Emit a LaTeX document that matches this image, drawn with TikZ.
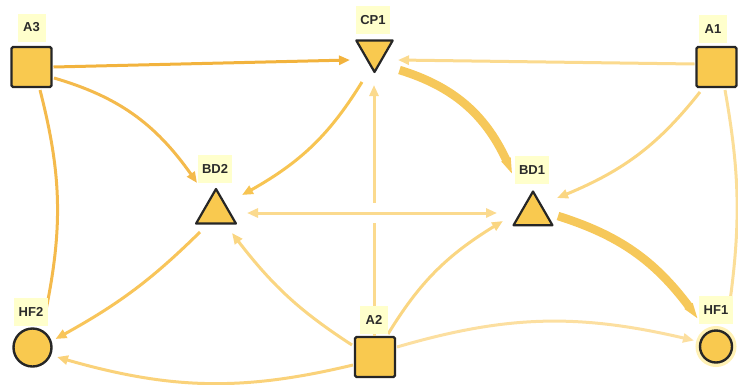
\documentclass[tikz,border=0pt]{standalone}
\usepackage{fontspec}
\setmainfont{Liberation Sans}
\usetikzlibrary{shapes.geometric,arrows.meta,bending,calc}
\definecolor{nodefill}{HTML}{F9C94F}
\definecolor{nodeline}{HTML}{262626}
\definecolor{lblfill}{HTML}{FFFFCC}
\definecolor{lbltext}{HTML}{2B2B2B}
\definecolor{haloc}{HTML}{FFF1B5}
\definecolor{cA}{HTML}{F2B33D}
\definecolor{cB}{HTML}{F4BA4C}
\definecolor{cC}{HTML}{F7C452}
\definecolor{cD}{HTML}{FBDA8E}
\definecolor{cE}{HTML}{FAD682}
\definecolor{cF}{HTML}{FBDE98}
\definecolor{cG}{HTML}{F6C85A}
\definecolor{cH}{HTML}{FAD27A}
\definecolor{cI}{HTML}{F8C55A}
\definecolor{cJ}{HTML}{FCDFA0}
\begin{document}
\begin{tikzpicture}[x=1pt,y=-1pt,
  sq/.style={draw=nodeline, fill=nodefill, line width=2.4pt, minimum size=40pt, inner sep=0pt, rounded corners=1.5pt},
  circ/.style={circle, draw=nodeline, fill=nodefill, line width=2.4pt, inner sep=0pt},
  tri/.style={regular polygon, regular polygon sides=3, draw=nodeline, fill=nodefill, line width=2.2pt, inner sep=0pt, line join=round},
  halo/.style={preaction={draw=haloc, line width=9pt}},
  lbl/.style={fill=lblfill, font=\bfseries\fontsize{13}{13}\selectfont, text=lbltext, inner sep=0pt, minimum width=28pt, minimum height=28pt},
  tip/.style={-{Triangle[length=11pt,width=9pt]}},
  e/.style={line width=3pt, tip},
  plain/.style={line width=3pt},
  fat/.style={line width=8.5pt, -{Triangle[length=18pt,width=8.5pt]}},
  ]
\useasboundingbox (0,0) rectangle (738,384);

% shapes
\node[sq] (A3) at (31.5,67) {};
\node[sq] (A1) at (716.5,67) {};
\node[sq] (A2) at (375,357) {};
\node[tri, shape border rotate=180, minimum size=42pt] (CP1) at (374.5,51) {};
\node[tri, minimum size=46pt] (BD2) at (216,212) {};
\node[tri, minimum size=45pt] (BD1) at (533,214) {};
\node[circ, minimum size=38pt] (HF2) at (32.5,347.5) {};
\node[circ, halo, minimum size=32pt] (HF1) at (716,346.5) {};

% connectors
\draw[e, draw=cA] ($(A3)+(22,0)$) -- ($(CP1)+(-24.5,9)$);
\draw[e, draw=cB] ($(A3)+(22.5,11)$) to[bend left=20] ($(BD2)+(-19,-29)$);
\draw[plain, draw=cB] ($(A3)+(8.5,23)$) to[bend left=13] ($(HF2)+(13,-35)$);
\draw[e, draw=cC] ($(CP1)+(-12.5,31)$) to[bend left=15] ($(BD2)+(26,-17)$);
\draw[e, draw=cD] ($(A1)+(-22,-3)$) -- ($(CP1)+(23.5,9)$);
\draw[fat, draw=cG] ($(CP1)+(25,19)$) to[bend left=26] ($(BD1)+(-20,-38)$);
\draw[e, draw=cE] ($(A1)+(-16.5,25)$) to[bend left=15] ($(BD1)+(24,-16)$);
\draw[plain, draw=cF] ($(A1)+(8.5,23)$) to[bend left=9] ($(HF1)+(13,-38)$);
\draw[e, draw=cD] ($(A2)+(-1,-21)$) -- ($(CP1)+(-0.5,34)$);
\draw[line width=3pt, draw=cD, {Triangle[length=11pt,width=9pt]}-{Triangle[length=11pt,width=9pt]},
      preaction={draw=white, line width=20pt, -}] ($(BD2)+(31,1)$) -- ($(BD1)+(-36,-1)$);
\draw[e, draw=cE] ($(A2)+(-23,-12)$) to[bend left=10] ($(BD2)+(16,21)$);
\draw[e, draw=cI] ($(BD2)+(-16,20)$) to[bend left=8] ($(HF2)+(23,-8.5)$);
\draw[e, draw=cH] ($(A2)+(-22,8)$) to[bend left=15] ($(HF2)+(24.5,9.5)$);
\draw[e, draw=cE] ($(A2)+(13,-23)$) to[bend left=14] ($(BD1)+(-30,7)$);
\draw[e, draw=cJ] ($(A2)+(22,-10)$) to[bend left=15] ($(HF1)+(-22,-6)$);
\draw[fat, draw=cG] ($(BD1)+(25,2)$) to[bend left=19] ($(HF1)+(-17,-26)$);

% labels
\node[lbl] (A3l) at (31.5,27.5) {A3};
\node[lbl, minimum width=34pt] (CP1l) at (373,20) {CP1};
\node[lbl] (A1l) at (713,29) {A1};
\node[lbl, minimum width=34pt] (BD2l) at (215,169) {BD2};
\node[lbl, minimum width=34pt] (BD1l) at (532,170) {BD1};
\node[lbl, minimum width=34pt] (HF2l) at (31,312) {HF2};
\node[lbl] (A2l) at (374,320) {A2};
\node[lbl, minimum width=34pt] (HF1l) at (716,310) {HF1};
\end{tikzpicture}
\end{document}
